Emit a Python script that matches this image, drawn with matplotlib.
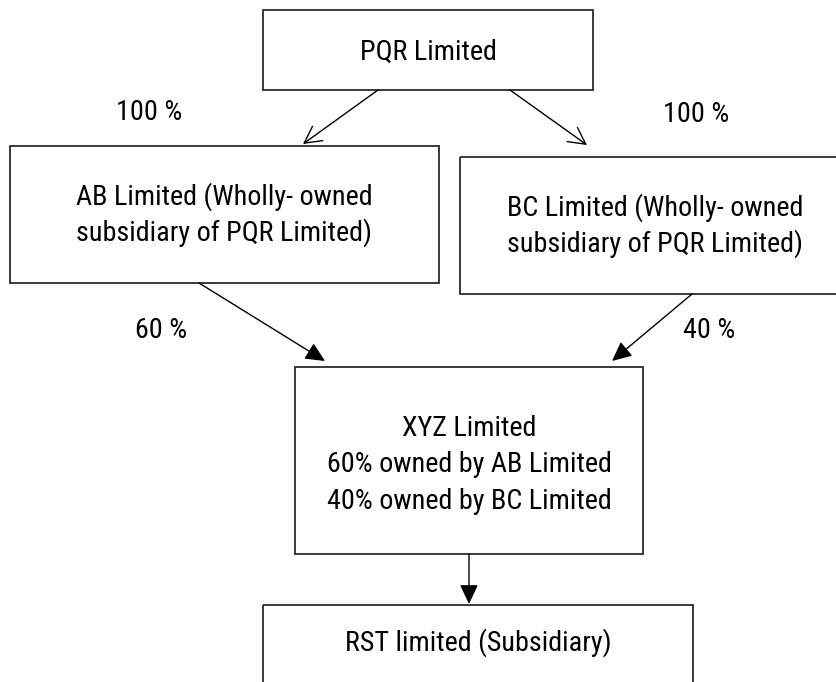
import matplotlib
matplotlib.use("Agg")
import matplotlib.pyplot as plt
from matplotlib.patches import Rectangle, FancyArrowPatch

plt.rcParams['font.family'] = ['Roboto Condensed', 'Liberation Sans', 'DejaVu Sans']

# ---- content ----
box_texts = [
    ["PQR Limited"],
    ["AB Limited (Wholly- owned", "subsidiary of PQR Limited)"],
    ["BC Limited (Wholly- owned", "subsidiary of PQR Limited)"],
    ["XYZ Limited", "60% owned by AB Limited", "40% owned by BC Limited"],
    ["RST limited (Subsidiary)"],
]
edge_labels = ["100 %", "100 %", "60 %", "40 %"]

# ---- layout (pixel coordinates, y downward) ----
W, H = 837, 682
boxes = [  # x0, y0, x1, y1
    (263, 10, 593, 90),
    (10, 146, 439, 283),
    (460, 157, 850, 294),
    (295, 367, 643, 554),
    (263, 605, 693, 720),
]
text_centers = [
    (428, 52, 0),
    (224.5, 214.5, 36),
    (655, 225.5, 36),
    (469, 465, 36.5),
    (478, 643, 0),
]
label_pos = [(149, 113), (696, 115), (161, 330), (709, 330)]
arrows = [  # start, end, style
    ((378, 90), (303, 144), 'open'),
    ((510, 90), (587, 145), 'open'),
    ((199, 283), (325, 361), 'filled'),
    ((692, 294), (612, 361), 'filled'),
    ((469, 554), (469, 604), 'filled'),
]

fig = plt.figure(figsize=(W / 100, H / 100), dpi=100)
ax = fig.add_axes([0, 0, 1, 1])
ax.set_xlim(0, W)
ax.set_ylim(H, 0)
ax.axis('off')

# fit font size so that "PQR Limited" is about 137 px wide
renderer = fig.canvas.get_renderer()
probe = ax.text(0, 0, "PQR Limited", fontsize=20)
wpx = probe.get_window_extent(renderer).width
probe.remove()
FS = 20 * 137.0 / wpx

for (x0, y0, x1, y1), lines, (cx, cy, sp) in zip(boxes, box_texts, text_centers):
    ax.add_patch(Rectangle((x0, y0), x1 - x0, y1 - y0, fill=False,
                           edgecolor='#2a2a2a', linewidth=1.3, clip_on=True))
    n = len(lines)
    for i, t in enumerate(lines):
        yy = cy + (i - (n - 1) / 2) * sp
        ax.text(cx, yy, t, ha='center', va='center', fontsize=FS, color='black')

for (x, y), t in zip(label_pos, edge_labels):
    ax.text(x, y, t, ha='center', va='center', fontsize=FS, color='black')

for (s, e, style) in arrows:
    if style == 'open':
        a = FancyArrowPatch(s, e, arrowstyle='->,head_length=0.85,head_width=0.45',
                            color='black', linewidth=1.0, shrinkA=0, shrinkB=0,
                            mutation_scale=14)
    else:
        a = FancyArrowPatch(s, e, arrowstyle='-|>,head_length=0.85,head_width=0.4',
                            color='black', linewidth=1.0, shrinkA=0, shrinkB=0,
                            mutation_scale=14)
    ax.add_patch(a)

fig.savefig('out.png', dpi=100, facecolor='white')
